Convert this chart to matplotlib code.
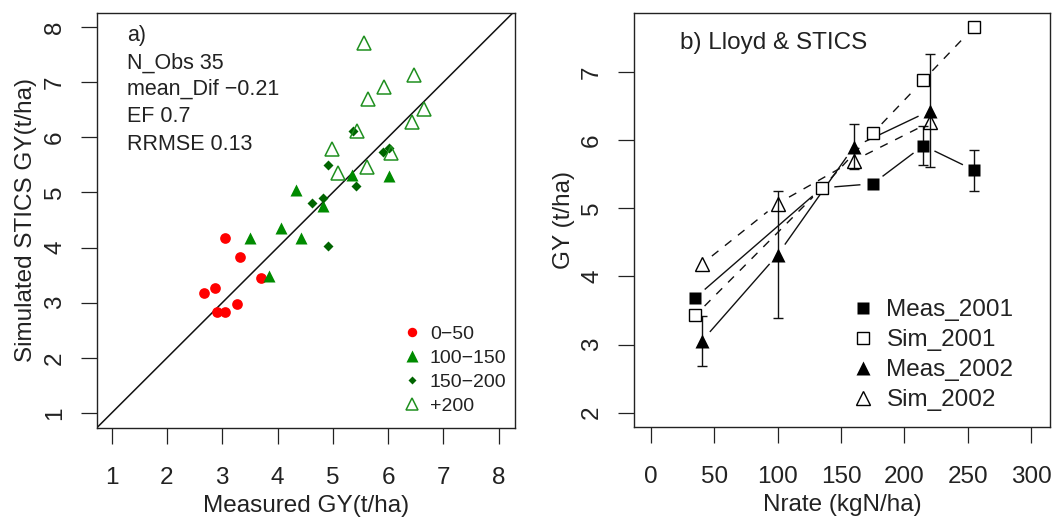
import matplotlib
matplotlib.use("Agg")
import matplotlib.pyplot as plt
from matplotlib.lines import Line2D
import numpy as np

plt.rcParams["font.family"] = ["Liberation Sans", "DejaVu Sans"]
plt.rcParams["axes.unicode_minus"] = True

# ---- panel a: simulated vs measured grain yield, by N-rate class
red_x = [3.05, 3.32, 3.70, 2.67, 2.87, 2.90, 3.05, 3.26]
red_y = [4.18, 3.82, 3.44, 3.17, 3.26, 2.84, 2.83, 2.97]
tri_x = [3.51, 3.85, 4.06, 4.33, 4.42, 4.83, 5.35, 6.01]
tri_y = [4.18, 3.48, 4.35, 5.05, 4.18, 4.76, 5.32, 5.29]
dia_x = [4.91, 4.63, 4.83, 4.92, 5.41, 5.37, 5.91, 6.01]
dia_y = [5.49, 4.81, 4.89, 4.02, 5.11, 6.12, 5.74, 5.80]
open_x = [5.57, 6.47, 5.92, 5.63, 6.64, 6.44, 5.43, 4.99, 6.06, 5.10, 5.61]
open_y = [7.71, 7.13, 6.92, 6.69, 6.52, 6.27, 6.12, 5.78, 5.71, 5.36, 5.46]
class_labels = ["0\u221250", "100\u2212150", "150\u2212200", "+200"]
stats_lines = ["a)", "N_Obs 35", "mean_Dif \u22120.21", "EF 0.7", "RRMSE 0.13"]

# ---- panel b: yield response to N rate
n_2001 = [35, 135, 175, 215, 255]
meas_2001 = [3.69, 5.30, 5.36, 5.92, 5.56]
meas_2001_err = [0, 0, 0, 0.285, 0.30]
sim_2001 = [3.43, 5.30, 6.10, 6.88, 7.66]
n_2002 = [40, 100, 160, 220]
meas_2002 = [3.05, 4.32, 5.90, 6.43]
meas_2002_err = [0.37, 0.93, 0.33, 0.83]
sim_2002 = [4.18, 5.07, 5.70, 6.26]
series_labels = ["Meas_2001", "Sim_2001", "Meas_2002", "Sim_2002"]

TXT = "#222222"
FS = 17.5

fig = plt.figure(figsize=(10.52, 5.17), dpi=100)
ax1 = fig.add_axes([0.0919, 0.1727, 0.3976, 0.8027])
ax2 = fig.add_axes([0.6024, 0.1747, 0.3957, 0.8008])


def style_axes(ax):
    for s in ax.spines.values():
        s.set_linewidth(1.0)
        s.set_color(TXT)
    ax.tick_params(axis="both", direction="out", length=11.5, width=0.9,
                   colors=TXT, labelsize=FS)
    ax.tick_params(axis="x", pad=17)
    ax.tick_params(axis="y", pad=10.5)
    plt.setp(ax.get_yticklabels(), rotation=90, va="center")


def gapped(ax, x, y, gap, **kw):
    # mimic R type="b": segments stop short of the points
    pts = ax.transData.transform(np.column_stack([x, y]))
    inv = ax.transData.inverted()
    for p0, p1 in zip(pts[:-1], pts[1:]):
        d = p1 - p0
        L = np.hypot(*d)
        if L <= 2 * gap:
            continue
        u = d / L
        a = inv.transform(p0 + u * gap)
        b = inv.transform(p1 - u * gap)
        ax.plot([a[0], b[0]], [a[1], b[1]], **kw)


# ---------------- panel a
ax1.set_xlim(0.729, 8.293)
ax1.set_ylim(0.733, 8.258)
ax1.axline((1, 1), slope=1, color="#111111", lw=1.1, zorder=1)
ax1.plot(red_x, red_y, "o", ms=7.7, color="#ff0000", mec="none", zorder=3)
ax1.plot(tri_x, tri_y, "^", ms=9.0, color="#008b00", mec="none", zorder=3)
ax1.plot(dia_x, dia_y, "D", ms=5.0, color="#006400", mec="none", zorder=3)
ax1.plot(open_x, open_y, "^", ms=9.5, mfc="none", mec="#1f8f1f", mew=1.1, zorder=3)
ax1.set_xticks(range(1, 9))
ax1.set_yticks(range(1, 9))
ax1.set_xlabel("Measured GY(t/ha)", fontsize=FS, color=TXT)
ax1.set_ylabel("Simulated STICS GY(t/ha)", fontsize=FS, color=TXT,
               va="center", rotation_mode="anchor")
ax1.xaxis.set_label_coords(0.5, -0.163)
ax1.yaxis.set_label_coords(-0.168, 0.5)
style_axes(ax1)

ys = [0.944, 0.8795, 0.8154, 0.7494, 0.6836]
for txt, yy in zip(stats_lines, ys):
    ax1.text(0.072, yy, txt, transform=ax1.transAxes, fontsize=15.5,
             color=TXT, ha="left", va="center")

h1 = [
    Line2D([], [], ls="none", marker="o", ms=6.8, color="#ff0000", mec="none"),
    Line2D([], [], ls="none", marker="^", ms=8.5, color="#008b00", mec="none"),
    Line2D([], [], ls="none", marker="D", ms=4.5, color="#006400", mec="none"),
    Line2D([], [], ls="none", marker="^", ms=9.0, mfc="none", mec="#1f8f1f", mew=1.1),
]
leg1 = ax1.legend(h1, class_labels, loc="upper left", bbox_to_anchor=(0.731, 0.2466),
                  frameon=False, fontsize=14, handlelength=1.0, handletextpad=0.41,
                  borderpad=0, borderaxespad=0, labelspacing=0.33)
for t in leg1.get_texts():
    t.set_color(TXT)

# ---------------- panel b
ax2.set_xlim(-13.7, 315.0)
ax2.set_ylim(1.795, 7.871)
ax2.set_xticks(range(0, 301, 50))
ax2.set_yticks(range(2, 8))

gap = 13
gapped(ax2, n_2001, meas_2001, gap, color="#111111", lw=1.0, zorder=2)
gapped(ax2, n_2001, sim_2001, gap, color="#111111", lw=1.0, dashes=(6, 6), zorder=2)
gapped(ax2, n_2002, meas_2002, gap, color="#111111", lw=1.0, zorder=2)
gapped(ax2, n_2002, sim_2002, gap, color="#111111", lw=1.0, dashes=(6, 6), zorder=2)

e1 = np.array(meas_2001_err)
m1 = e1 > 0
ax2.errorbar(np.array(n_2001)[m1], np.array(meas_2001)[m1], yerr=e1[m1], fmt="none",
             ecolor="#111111", elinewidth=1.0, capsize=3.8, capthick=1.0, zorder=3)
ax2.errorbar(n_2002, meas_2002, yerr=meas_2002_err, fmt="none",
             ecolor="#111111", elinewidth=1.0, capsize=3.8, capthick=1.0, zorder=3)

ax2.plot(n_2001, meas_2001, "s", ms=9.0, color="black", mec="none", zorder=4)
ax2.plot(n_2001, sim_2001, "s", ms=8.3, mfc="white", mec="black", mew=1.0, zorder=4)
ax2.plot(n_2002, meas_2002, "^", ms=9.5, color="black", mec="none", zorder=4)
ax2.plot(n_2002, sim_2002, "^", ms=10, mfc="none", mec="black", mew=1.0, zorder=4)

ax2.text(0.110, 0.9275, "b) Lloyd & STICS", transform=ax2.transAxes, fontsize=FS,
         color=TXT, ha="left", va="center")
ax2.set_xlabel("Nrate (kgN/ha)", fontsize=FS, color=TXT)
ax2.set_ylabel("GY (t/ha)", fontsize=FS, color=TXT, va="center", rotation_mode="anchor")
ax2.xaxis.set_label_coords(0.5, -0.163)
ax2.yaxis.set_label_coords(-0.168, 0.5)
style_axes(ax2)

h2 = [
    Line2D([], [], ls="none", marker="s", ms=9.0, color="black", mec="none"),
    Line2D([], [], ls="none", marker="s", ms=8.3, mfc="white", mec="black", mew=1.0),
    Line2D([], [], ls="none", marker="^", ms=9.5, color="black", mec="none"),
    Line2D([], [], ls="none", marker="^", ms=10, mfc="none", mec="black", mew=1.0),
]
leg2 = ax2.legend(h2, series_labels, loc="upper left", bbox_to_anchor=(0.5206, 0.308),
                  frameon=False, fontsize=FS, handlelength=1.0, handletextpad=0.48,
                  borderpad=0, borderaxespad=0, labelspacing=0.33)
for t in leg2.get_texts():
    t.set_color(TXT)

fig.savefig("out.png", dpi=100)
